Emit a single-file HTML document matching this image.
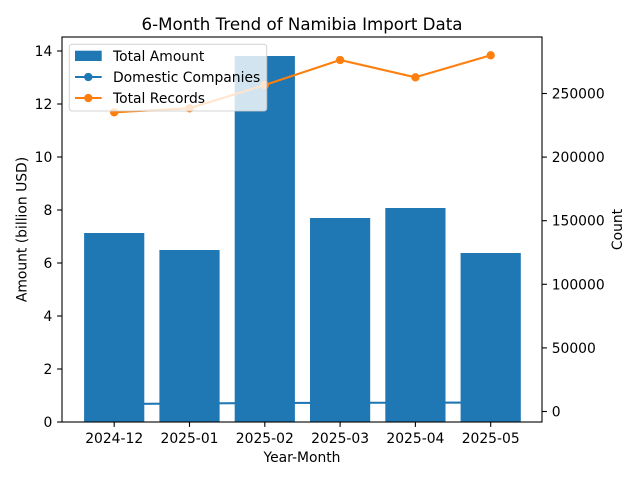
<!DOCTYPE html>
<html>
<head>
<meta charset="utf-8">
<style>
html,body{margin:0;padding:0;background:#fff;}
svg{display:block;}
text{font-family:"DejaVu Sans","Liberation Sans",sans-serif;fill:#000;}
</style>
</head>
<body>
<svg width="640" height="480" viewBox="0 0 640 480" xmlns="http://www.w3.org/2000/svg">
<rect x="0" y="0" width="640" height="480" fill="#fff"/>

<!-- domestic companies line (behind bars) -->
<polyline points="114.2,404 189.5,403.5 264.8,403 340.1,402.8 415.4,402.7 490.7,402.6" fill="none" stroke="#1f77b4" stroke-width="2.08"/>

<!-- bars -->
<g fill="#1f77b4">
<rect x="84.1" y="233" width="60.2" height="189"/>
<rect x="159.4" y="250" width="60.2" height="172"/>
<rect x="234.7" y="56" width="60.2" height="366"/>
<rect x="310.0" y="218" width="60.2" height="204"/>
<rect x="385.3" y="208" width="60.2" height="214"/>
<rect x="460.6" y="253" width="60.2" height="169"/>
</g>

<!-- total records line -->
<polyline points="114.2,112.3 189.5,108.3 264.8,85 340.1,60 415.4,77.3 490.7,55.3" fill="none" stroke="#ff7f0e" stroke-width="2.08" stroke-linejoin="round"/>
<g fill="#ff7f0e">
<circle cx="114.2" cy="112.3" r="4.17"/>
<circle cx="189.5" cy="108.3" r="4.17"/>
<circle cx="264.8" cy="85" r="4.17"/>
<circle cx="340.1" cy="60" r="4.17"/>
<circle cx="415.4" cy="77.3" r="4.17"/>
<circle cx="490.7" cy="55.3" r="4.17"/>
</g>

<!-- spines -->
<rect x="62" y="37" width="480" height="385" fill="none" stroke="#000" stroke-width="1.1"/>

<!-- left ticks -->
<g stroke="#000" stroke-width="1.1">
<line x1="57.1" y1="422" x2="62" y2="422"/>
<line x1="57.1" y1="369" x2="62" y2="369"/>
<line x1="57.1" y1="316" x2="62" y2="316"/>
<line x1="57.1" y1="263" x2="62" y2="263"/>
<line x1="57.1" y1="210" x2="62" y2="210"/>
<line x1="57.1" y1="157" x2="62" y2="157"/>
<line x1="57.1" y1="104" x2="62" y2="104"/>
<line x1="57.1" y1="51" x2="62" y2="51"/>
<!-- right ticks -->
<line x1="542" y1="411.5" x2="546.9" y2="411.5"/>
<line x1="542" y1="347.9" x2="546.9" y2="347.9"/>
<line x1="542" y1="284.3" x2="546.9" y2="284.3"/>
<line x1="542" y1="220.7" x2="546.9" y2="220.7"/>
<line x1="542" y1="157.1" x2="546.9" y2="157.1"/>
<line x1="542" y1="93.5" x2="546.9" y2="93.5"/>
<!-- bottom ticks -->
<line x1="114.2" y1="422" x2="114.2" y2="426.9"/>
<line x1="189.5" y1="422" x2="189.5" y2="426.9"/>
<line x1="264.8" y1="422" x2="264.8" y2="426.9"/>
<line x1="340.1" y1="422" x2="340.1" y2="426.9"/>
<line x1="415.4" y1="422" x2="415.4" y2="426.9"/>
<line x1="490.7" y1="422" x2="490.7" y2="426.9"/>
</g>

<!-- left tick labels -->
<g font-size="13.89" text-anchor="end">
<text x="52.3" y="427">0</text>
<text x="52.3" y="374">2</text>
<text x="52.3" y="321">4</text>
<text x="52.3" y="268">6</text>
<text x="52.3" y="215">8</text>
<text x="52.3" y="162">10</text>
<text x="52.3" y="109">12</text>
<text x="52.3" y="56">14</text>
</g>

<!-- right tick labels -->
<g font-size="13.89" text-anchor="start">
<text x="551.7" y="416.5">0</text>
<text x="551.7" y="352.9">50000</text>
<text x="551.7" y="289.3">100000</text>
<text x="551.7" y="225.7">150000</text>
<text x="551.7" y="162.1">200000</text>
<text x="551.7" y="98.5">250000</text>
</g>

<!-- x tick labels -->
<g font-size="13.89" text-anchor="middle">
<text x="114.2" y="443">2024-12</text>
<text x="189.5" y="443">2025-01</text>
<text x="264.8" y="443">2025-02</text>
<text x="340.1" y="443">2025-03</text>
<text x="415.4" y="443">2025-04</text>
<text x="490.7" y="443">2025-05</text>
</g>

<!-- axis labels -->
<text x="302" y="462" font-size="13.89" text-anchor="middle">Year-Month</text>
<text transform="translate(26.5,229.5) rotate(-90)" font-size="13.89" text-anchor="middle">Amount (billion USD)</text>
<text transform="translate(622,229.5) rotate(-90)" font-size="13.89" text-anchor="middle">Count</text>

<!-- title -->
<text x="302" y="30" font-size="16.67" text-anchor="middle">6-Month Trend of Namibia Import Data</text>

<!-- legend -->
<rect x="69.3" y="44.3" width="197.4" height="66.7" rx="2.8" ry="2.8" fill="#fff" fill-opacity="0.8" stroke="#cccccc" stroke-opacity="0.8" stroke-width="1.1"/>
<rect x="75" y="50.7" width="26.7" height="10.3" fill="#1f77b4"/>
<line x1="75" y1="77" x2="101.7" y2="77" stroke="#1f77b4" stroke-width="2.08"/>
<circle cx="88.3" cy="77" r="4.17" fill="#1f77b4"/>
<line x1="75" y1="98" x2="101.7" y2="98" stroke="#ff7f0e" stroke-width="2.08"/>
<circle cx="88.3" cy="98" r="4.17" fill="#ff7f0e"/>
<g font-size="13.89">
<text x="113" y="61">Total Amount</text>
<text x="113" y="82">Domestic Companies</text>
<text x="113" y="103">Total Records</text>
</g>
</svg>
</body>
</html>
